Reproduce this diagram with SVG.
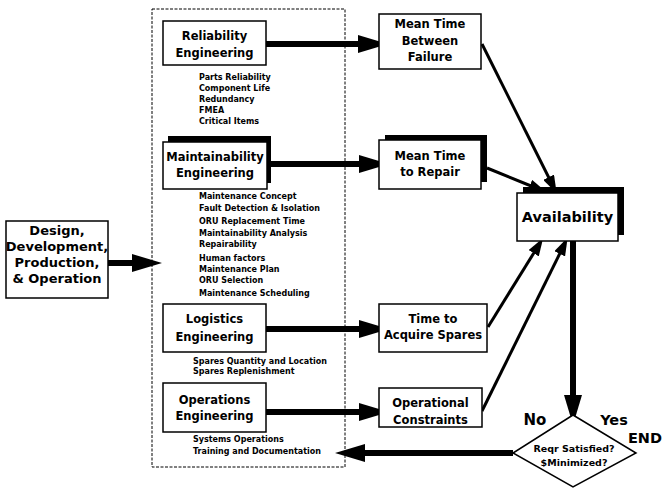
<svg xmlns="http://www.w3.org/2000/svg" width="663" height="488" viewBox="0 0 663 488">
<style>
.box{fill:#fff;stroke:#000;stroke-width:1.5}
.sh{fill:#000}
.t{font-family:"DejaVu Sans","Liberation Sans",sans-serif;font-weight:bold;fill:#000;text-anchor:middle}
.s{font-family:"DejaVu Sans","Liberation Sans",sans-serif;font-weight:bold;fill:#000;font-size:8px}
.thick{stroke:#000;stroke-width:6;fill:none;marker-end:url(#big)}
.thin{stroke:#000;stroke-width:3;fill:none;marker-end:url(#small)}
</style>
<defs>
<marker id="big" markerUnits="userSpaceOnUse" markerWidth="30" markerHeight="18" refX="20" refY="9" orient="auto"><path d="M0,0 L30,9 L0,18 Z" fill="#000"/></marker>
<marker id="small" markerUnits="userSpaceOnUse" markerWidth="18" markerHeight="12" refX="12" refY="6" orient="auto"><path d="M0,0 L18,6 L0,12 Z" fill="#000"/></marker>
</defs>
<rect width="663" height="488" fill="#fff"/>
<g id="container"><rect x="152" y="9" width="193" height="458" fill="none" stroke="#000" stroke-width="1" stroke-dasharray="3,1.5"/></g>
<g id="connectors">
<line class="thick" x1="108" y1="263" x2="152" y2="263"/>
<line class="thick" x1="266" y1="44" x2="378" y2="44"/>
<line class="thick" x1="267" y1="164" x2="379" y2="164"/>
<line class="thick" x1="266" y1="329" x2="379" y2="329"/>
<line class="thick" x1="266" y1="412" x2="379" y2="412"/>
<line class="thin" x1="482" y1="44" x2="554" y2="188"/>
<line class="thin" x1="487" y1="168" x2="541" y2="190"/>
<line class="thin" x1="488" y1="327" x2="540" y2="243"/>
<line class="thin" x1="482" y1="411" x2="565" y2="243"/>
<line class="thick" x1="573" y1="241" x2="573" y2="415"/>
<line class="thick" x1="513" y1="453" x2="345" y2="453"/>
</g>
<g id="design">
<rect class="box" x="6" y="221" width="102" height="77"/>
<text class="t" font-size="13" x="57"><tspan x="57" y="235">Design,</tspan><tspan x="57" y="251">Development,</tspan><tspan x="57" y="267">Production,</tspan><tspan x="57" y="283">&amp; Operation</tspan></text>
</g>
<g id="reliability">
<rect class="box" x="163" y="21" width="103" height="44"/>
<text class="t" font-size="11.5"><tspan x="214.5" y="40">Reliability</tspan><tspan x="214.5" y="57">Engineering</tspan></text>
<text class="s"><tspan x="199" y="80">Parts Reliability</tspan><tspan x="199" y="91">Component Life</tspan><tspan x="199" y="102">Redundancy</tspan><tspan x="199" y="113">FMEA</tspan><tspan x="199" y="124">Critical Items</tspan></text>
</g>
<g id="maintainability">
<rect class="sh" x="168" y="136" width="103" height="47"/>
<rect class="box" x="163" y="142" width="104" height="47"/>
<text class="t" font-size="11.5"><tspan x="215" y="161">Maintainability</tspan><tspan x="215" y="177">Engineering</tspan></text>
<text class="s"><tspan x="199" y="199">Maintenance Concept</tspan><tspan x="199" y="211">Fault Detection &amp; Isolation</tspan><tspan x="199" y="224">ORU Replacement Time</tspan><tspan x="199" y="236">Maintainability Analysis</tspan><tspan x="199" y="247">Repairability</tspan><tspan x="199" y="261">Human factors</tspan><tspan x="199" y="272">Maintenance Plan</tspan><tspan x="199" y="283">ORU Selection</tspan><tspan x="199" y="296">Maintenance Scheduling</tspan></text>
</g>
<g id="logistics">
<rect class="box" x="163" y="304" width="103" height="48"/>
<text class="t" font-size="11.5"><tspan x="214.5" y="323">Logistics</tspan><tspan x="214.5" y="341">Engineering</tspan></text>
<text class="s"><tspan x="193" y="364">Spares Quantity and Location</tspan><tspan x="193" y="374">Spares Replenishment</tspan></text>
</g>
<g id="operations">
<rect class="box" x="163" y="383" width="103" height="49"/>
<text class="t" font-size="11.5"><tspan x="214.5" y="404">Operations</tspan><tspan x="214.5" y="420">Engineering</tspan></text>
<text class="s"><tspan x="193" y="442">Systems Operations</tspan><tspan x="193" y="454">Training and Documentation</tspan></text>
</g>
<g id="mtbf">
<rect class="box" x="379" y="14" width="102" height="55"/>
<text class="t" font-size="11.5"><tspan x="430" y="28">Mean Time</tspan><tspan x="430" y="45">Between</tspan><tspan x="430" y="61">Failure</tspan></text>
</g>
<g id="mttr">
<rect class="sh" x="385" y="135" width="102" height="47"/>
<rect class="box" x="379" y="140" width="102" height="49"/>
<text class="t" font-size="11.5"><tspan x="430" y="160">Mean Time</tspan><tspan x="430" y="176">to Repair</tspan></text>
</g>
<g id="spares">
<rect class="box" x="379" y="304" width="108" height="48"/>
<text class="t" font-size="11.5"><tspan x="433" y="323">Time to</tspan><tspan x="433" y="339">Acquire Spares</tspan></text>
</g>
<g id="opconstraints">
<rect class="box" x="379" y="388" width="103" height="39"/>
<text class="t" font-size="11.5"><tspan x="430.5" y="407">Operational</tspan><tspan x="430.5" y="424">Constraints</tspan></text>
</g>
<g id="availability">
<rect class="sh" x="523" y="187" width="101" height="48"/>
<rect class="box" x="517" y="193" width="101" height="48"/>
<text class="t" font-size="14.5" x="567.5" y="222">Availability</text>
</g>
<g id="decision">
<polygon points="573,415 636,453 573,487 513,453" fill="#fff" stroke="#000" stroke-width="1.5"/>
<text class="t" font-size="9.5"><tspan x="574" y="452">Reqr Satisfied?</tspan><tspan x="574" y="466">$Minimized?</tspan></text>
<text class="t" font-size="15" x="535" y="425">No</text>
<text class="t" font-size="14.5" x="614" y="425">Yes</text>
<text class="t" font-size="14.5" x="645" y="443">END</text>
</g>
</svg>
